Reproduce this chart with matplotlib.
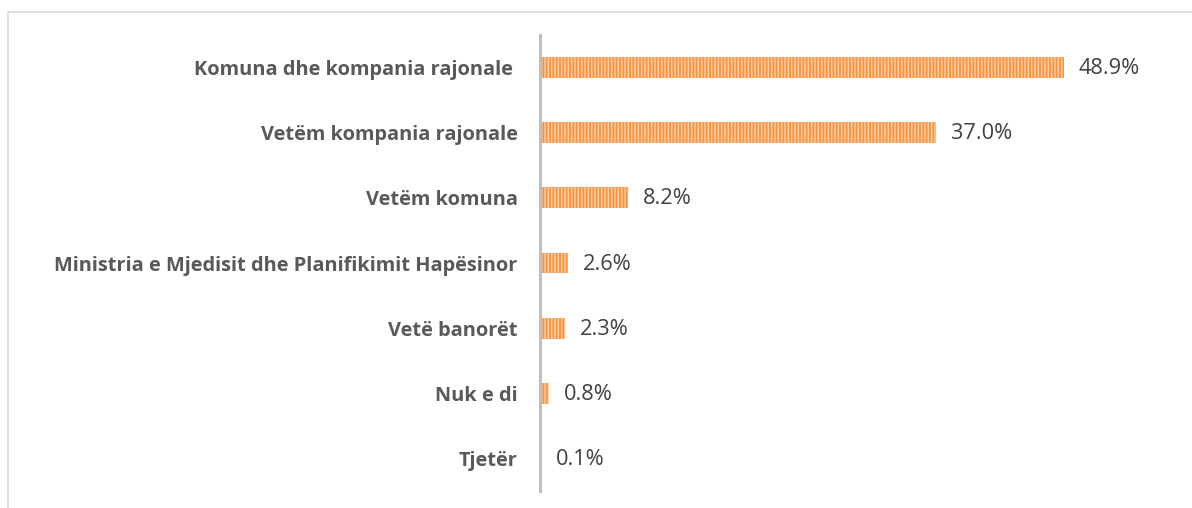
import matplotlib.pyplot as plt
from matplotlib.patches import Rectangle

categories = [
    "Komuna dhe kompania rajonale ",
    "Vetëm kompania rajonale",
    "Vetëm komuna",
    "Ministria e Mjedisit dhe Planifikimit Hapësinor",
    "Vetë banorët",
    "Nuk e di",
    "Tjetër",
]
values = [48.9, 37.0, 8.2, 2.6, 2.3, 0.8, 0.1]

plt.rcParams['font.family'] = ['Open Sans', 'DejaVu Sans']
plt.rcParams['hatch.linewidth'] = 1.0

W, H = 1192, 508
fig = plt.figure(figsize=(W / 100, H / 100), dpi=100)

# chart frame (only top and left visible in the crop)
fig.patches.append(Rectangle((8 / W, -0.1), 1.2, (H - 12) / H + 0.1,
                             transform=fig.transFigure, fill=False,
                             edgecolor='#D9D9D9', linewidth=1.2))

ax = fig.add_axes([540 / W, (H - 491) / H, 600 / W, (491 - 35) / H])
y = list(range(len(categories)))
ax.barh(y, values, height=0.32, color='#F79646', edgecolor='#FCCFA4',
        linewidth=0, hatch='|||||')
ax.set_xlim(0, 56)
ax.set_ylim(len(categories) - 0.5, -0.5)

for yi, v in zip(y, values):
    ax.annotate(f"{v:.1f}%", (v, yi), xytext=(15, -1), textcoords='offset pixels',
                va='center', ha='left', fontsize=15.7, color='#404040')

ax.set_yticks(y)
ax.set_yticklabels(categories, fontsize=14.4, fontweight='bold', color='#595959')
ax.tick_params(axis='y', length=0, pad=16)
ax.set_xticks([])
for s in ['top', 'right', 'bottom']:
    ax.spines[s].set_visible(False)
ax.spines['left'].set_color('#BFBFBF')
ax.spines['left'].set_linewidth(2.2)

fig.savefig('out.png', dpi=100)
